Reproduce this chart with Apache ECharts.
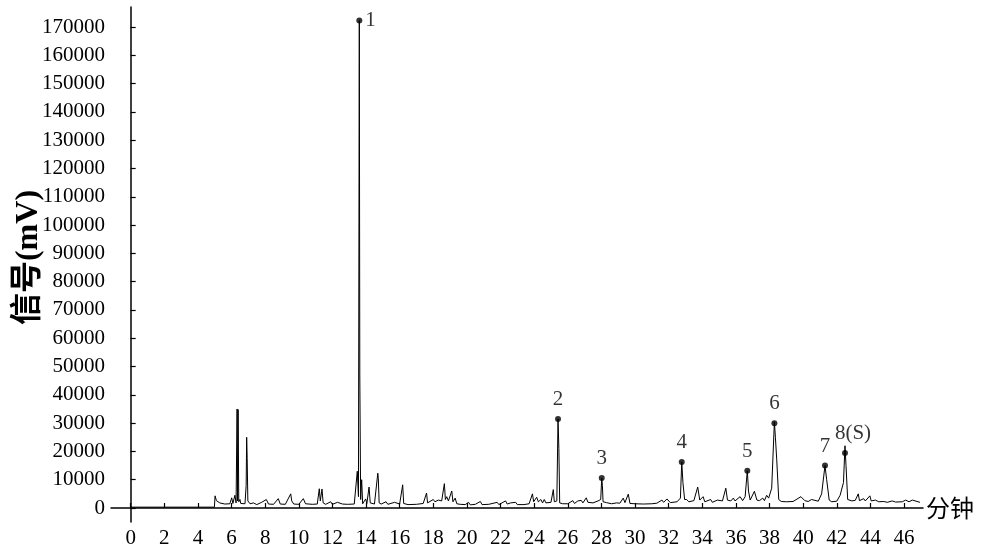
<!DOCTYPE html>
<html>
<head>
<meta charset="utf-8">
<script src="https://cdn.jsdelivr.net/npm/echarts@6/dist/echarts.min.js"></script>
<style>
    html, body { margin: 0; padding: 0; background: #fff; }
    #chart { width: 982px; height: 555px; }
</style>
</head>
<body>
<div id="chart"></div>
<script>
// 保留时间(分钟)
var times = [0, 4.98, 5.02, 5.1, 5.3, 5.6, 5.9, 6.01, 6.08, 6.2, 6.27, 6.33, 6.36, 6.39, 6.43, 6.5, 6.55, 6.8, 6.87, 6.9,
    6.93, 6.97, 7.1, 7.3, 7.5, 7.79, 7.9, 8.07, 8.2, 8.5, 8.78, 8.9, 9.2, 9.52, 9.58, 9.7, 10.0, 10.27, 10.4, 10.8,
    11.1, 11.22, 11.28, 11.38, 11.45, 11.6, 11.9, 12.0, 12.3, 12.4, 12.6, 12.9, 13.3, 13.48, 13.55, 13.6, 13.63, 13.68, 13.74, 13.8,
    13.98, 14.05, 14.18, 14.25, 14.5, 14.7, 14.73, 14.78, 14.9, 15.19, 15.3, 15.7, 15.8, 16.0, 16.18, 16.24, 16.5, 17.0, 17.4, 17.6,
    17.66, 18.0, 18.1, 18.3, 18.5, 18.66, 18.72, 18.8, 18.9, 19.1, 19.17, 19.3, 19.4, 19.6, 19.9, 20.1, 20.2, 20.5, 20.8, 20.9,
    21.3, 21.8, 21.9, 22.3, 22.4, 22.6, 22.9, 23.0, 23.4, 23.7, 23.9, 23.97, 24.15, 24.25, 24.4, 24.5, 24.6, 24.7, 25.0, 25.14,
    25.2, 25.35, 25.42, 25.47, 25.52, 25.7, 26.0, 26.3, 26.4, 26.6, 26.8, 26.9, 27.1, 27.2, 27.5, 27.8, 27.96, 28.02, 28.06, 28.1,
    28.3, 28.6, 28.9, 29.1, 29.3, 29.4, 29.6, 29.7, 30.0, 30.5, 31.0, 31.3, 31.6, 31.7, 31.9, 32.1, 32.5, 32.7, 32.78, 32.85,
    32.95, 33.07, 33.2, 33.5, 33.73, 33.85, 34.05, 34.15, 34.5, 34.6, 34.9, 35.0, 35.2, 35.4, 35.5, 35.7, 35.85, 35.95, 36.25, 36.4,
    36.55, 36.68, 36.75, 36.85, 37.1, 37.25, 37.4, 37.6, 37.7, 37.83, 37.95, 38.13, 38.29, 38.35, 38.43, 38.55, 38.7, 39.0, 39.4, 39.87,
    40.1, 40.3, 40.5, 40.6, 40.9, 41.1, 41.3, 41.4, 41.55, 41.7, 42.0, 42.2, 42.4, 42.49, 42.55, 42.65, 42.9, 43.1, 43.28, 43.35,
    43.6, 43.7, 43.97, 44.05, 44.3, 44.5, 44.8, 45.0, 45.3, 45.5, 45.9, 46.1, 46.3, 46.5, 46.6, 46.95]
// 信号(mV)
var signal = [300, 300, 4300, 2600, 1800, 1400, 1500, 3600, 1600, 4500, 1800, 35000, 2500, 34800, 2200, 3000, 1600, 1500, 8000, 25000,
    17500, 2500, 1500, 1800, 1200, 2000, 1300, 3000, 1400, 1300, 3300, 1400, 1300, 5000, 2500, 1400, 1300, 3300, 1500, 1300,
    1400, 6800, 2500, 6700, 1800, 1300, 2200, 1300, 2000, 1300, 1400, 1300, 1400, 13000, 4000, 172300, 47000, 3000, 10000, 1500,
    3200, 1600, 7400, 1800, 1400, 12300, 10500, 1800, 1400, 2200, 1300, 2000, 1300, 1400, 8200, 1600, 1200, 1300, 1600, 5300,
    1800, 3000, 2200, 2800, 2500, 8600, 3000, 4000, 2500, 6000, 2200, 3500, 1500, 1300, 1200, 2000, 1100, 1300, 2300, 1200,
    1300, 2000, 1200, 2500, 1400, 1800, 2000, 1200, 1200, 1500, 5000, 2200, 3800, 2200, 3000, 1800, 3000, 1800, 2000, 6500,
    2200, 2500, 31500, 21000, 1800, 1500, 1500, 2600, 1600, 2500, 2700, 1800, 3600, 2000, 1800, 2500, 3000, 10600, 8000, 2200,
    1900, 1500, 1800, 1700, 3500, 1900, 4900, 1600, 1500, 1400, 1500, 1700, 2800, 2000, 3200, 1900, 2200, 3500, 16300, 9000,
    3000, 3000, 2200, 2600, 7400, 2800, 4000, 2200, 3000, 2000, 2800, 2100, 2500, 7000, 2800, 2500, 3500, 2500, 4000, 2600,
    4000, 13200, 6000, 2800, 5900, 2800, 2600, 3500, 2600, 4500, 3500, 7000, 30500, 25000, 17000, 3000, 2300, 2200, 2300, 4000,
    2600, 2300, 3000, 2300, 2400, 5000, 15000, 10000, 2800, 2200, 2400, 4500, 9000, 22000, 15000, 3000, 2500, 2700, 5000, 2600,
    3300, 2500, 4300, 2500, 2800, 2200, 2300, 2000, 2500, 2100, 2200, 2800, 2200, 2800, 2200, 2000]
// 标记峰
var peakNames = ['1', '2', '3', '4', '5', '6', '7', '8(S)']
var peakTimes = [13.6, 25.42, 28.02, 32.78, 36.68, 38.29, 41.3, 42.49]
var peakHeights = [172300, 31500, 10600, 16300, 13200, 30000, 15000, 19400]
// 刻度
var xTicks = [0, 2, 4, 6, 8, 10, 12, 14, 16, 18, 20, 22, 24, 26, 28, 30, 32, 34, 36, 38, 40, 42, 44, 46]
var yTicks = [0, 10000, 20000, 30000, 40000, 50000, 60000, 70000, 80000, 90000, 100000,
    110000, 120000, 130000, 140000, 150000, 160000, 170000]

var serif = 'Liberation Serif, Noto Sans CJK SC'

var option = {
    animation: false,
    backgroundColor: '#fff',
    grid: {
        left: 111,
        right: 59,
        top: 7,
        bottom: 33,
        outerBoundsMode: 'none'
    },
    xAxis: {
        type: 'value',
        min: -1.17,
        max: 47.13,
        name: '分钟',
        nameLocation: 'end',
        nameGap: 3,
        nameTextStyle: {
            fontFamily: 'Noto Sans CJK SC',
            fontSize: 24,
            color: '#000',
            padding: [22, 0, 0, 0]
        },
        splitLine: { show: false },
        axisLine: { lineStyle: { color: '#000', width: 1.5 } },
        axisTick: {
            inside: true,
            length: 5,
            customValues: xTicks,
            lineStyle: { color: '#000', width: 1.2 }
        },
        axisLabel: {
            customValues: xTicks,
            margin: 6,
            fontFamily: serif,
            fontSize: 21,
            color: '#000'
        }
    },
    yAxis: {
        type: 'value',
        min: -4950,
        max: 177100,
        name: '信号(mV)',
        nameLocation: 'middle',
        nameRotate: 90,
        nameGap: 66,
        nameMoveOverlap: false,
        nameTextStyle: {
            fontFamily: serif,
            fontSize: 32,
            fontWeight: 'bold',
            color: '#000',
            padding: [0, 0, 0, 14]
        },
        splitLine: { show: false },
        axisLine: { show: true, lineStyle: { color: '#000', width: 1.5 } },
        axisTick: {
            show: true,
            inside: true,
            length: 5,
            customValues: yTicks,
            lineStyle: { color: '#000', width: 1.2 }
        },
        axisLabel: {
            customValues: yTicks,
            margin: 6,
            fontFamily: serif,
            fontSize: 21,
            color: '#000',
            formatter: function(v) { return String(v) }
        }
    },
    series: [{
        type: 'line',
        symbol: 'none',
        lineStyle: { color: '#000', width: 1 },
        data: times.map(function(t, i) { return [t, signal[i]] })
    }, {
        type: 'scatter',
        symbol: 'circle',
        symbolSize: 6,
        itemStyle: { color: '#000' },
        label: {
            show: true,
            position: 'top',
            distance: 6,
            fontFamily: serif,
            fontSize: 21,
            color: '#000',
            formatter: function(p) { return peakNames[p.dataIndex] }
        },
        data: peakTimes.map(function(t, i) {
            var d = { value: [t, peakHeights[i]] }
            if (i === 0) d.label = { position: 'right', distance: 3 }
            if (i === 7) d.label = { offset: [8, 0] }
            return d
        })
    }]
}

var chart = echarts.init(document.getElementById('chart'))
chart.setOption(option)
</script>
</body>
</html>
